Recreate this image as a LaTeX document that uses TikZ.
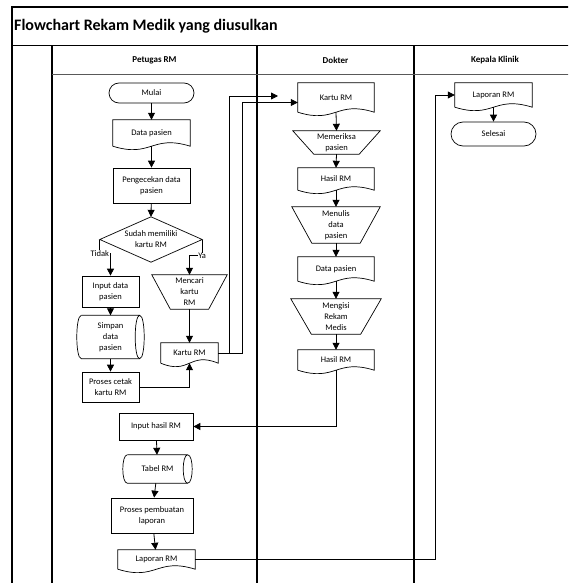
\documentclass[tikz,border=0pt]{standalone}
\usepackage{fontspec}
\setmainfont{Carlito}
\usetikzlibrary{arrows.meta, calc}

\newcommand{\flowfont}{\fontsize{8.5}{11}\selectfont}
% outlines drawn over plain nodes
\newcommand{\docshape}[1]{%
  \draw[outline] (#1.south west) -- (#1.north west) -- (#1.north east) -- (#1.south east)
    .. controls ($(#1.south)+(0,-12)$) and ($(#1.south)+(0,12)$) .. (#1.south west);}
\newcommand{\manop}[2]{%
  \draw[outline] (#1.north west) -- (#1.north east) -- ($(#1.south east)+(-#2,0)$)
    -- ($(#1.south west)+(#2,0)$) -- cycle;}
\newcommand{\storedata}[1]{%
  \draw[outline] (#1.north west) -- (#1.north east)
    .. controls +(6,0) and +(6,0) .. (#1.south east)
    .. controls +(-6,0) and +(-6,0) .. (#1.north east);
  \draw[outline] (#1.north west) .. controls +(-6,0) and +(-6,0) .. (#1.south west) -- (#1.south east);}
\newcommand{\decshape}[1]{%
  \draw[outline] (#1.north) -- (#1.east) -- (#1.south) -- (#1.west) -- cycle;}

\begin{document}
\begin{tikzpicture}[
    x=1pt, y=-1pt,
    outline/.style={line width=0.7pt},
    wh/.style 2 args={minimum width=#1pt, minimum height=#2pt},
    process/.style={rectangle, draw, line width=0.7pt, align=center, font=\flowfont, inner sep=0pt},
    plain/.style={rectangle, align=center, font=\flowfont, inner sep=0pt},
    lbl/.style={fill=white, inner sep=0.5pt, font=\flowfont},
    head/.style={font=\fontsize{9}{10}\selectfont\bfseries},
    title/.style={font=\fontsize{16}{19}\selectfont\bfseries, inner sep=0pt},
    frame/.style={line width=1.2pt},
    headline/.style={line width=1.8pt, black!65},
    arrow/.style={-{Triangle[length=7pt,width=7pt]}, line width=0.8pt}
]
\useasboundingbox (0,0) rectangle (568,583);
\clip (0,0) rectangle (568,583);

% Swimlanes
\draw[frame] (12,7) rectangle (580,590);
\draw[frame] (12,45.7) -- (580,45.7);
\draw[frame] (52,45.7) -- (52,590);
\draw[frame] (257,45.7) -- (257,590);
\draw[frame] (414,45.7) -- (414,590);
\draw[headline] (52,74.5) -- (580,74.5);
\node[title, anchor=west] (judul) at (14,26.5) {Flowchart Rekam Medik yang diusulkan};
\node[head] (hpetugas) at (154.5,60) {Petugas RM};
\node[head] (hdokter) at (335.5,60) {Dokter};
\node[head] (hkepala) at (495,60) {Kepala Klinik};

% Petugas RM
\node[process, wh={85}{20}, rounded corners=10pt] (mulai) at (151.5,93) {Mulai};
\node[plain, wh={77}{26}] (datap) at (151.5,133) {Data pasien};
\docshape{datap}
\node[process, wh={77}{35}] (cek) at (151.5,185.5) {Pengecekan data\\pasien};
\node[plain, wh={102}{45}] (cekrm) at (151,239.5) {Sudah memiliki\\kartu RM};
\decshape{cekrm}
\node[process, wh={57}{31}] (inputdp) at (110.5,291.5) {Input data\\pasien};
\node[plain, wh={58}{43}] (simpan) at (110.5,337) {Simpan\\data\\pasien};
\storedata{simpan}
\node[process, wh={57}{30}] (cetak) at (110.5,387) {Proses cetak\\kartu RM};
\node[plain, wh={75}{34}] (cari) at (189.5,292) {Mencari\\kartu\\RM};
\manop{cari}{18.5}
\node[plain, wh={57}{20}] (kartup) at (189.5,353) {Kartu RM};
\docshape{kartup}
\node[process, wh={74}{27}] (inputhasil) at (156,426.5) {Input hasil RM};
\node[plain, wh={60}{28}] (tabel) at (157.5,469) {Tabel RM};
\storedata{tabel}
\node[process, wh={82}{35}] (buatlap) at (152,515.5) {Proses pembuatan\\laporan};
\node[plain, wh={77}{19}] (lapp) at (156.5,559.5) {Laporan RM};
\docshape{lapp}

% Dokter
\node[plain, wh={76}{29}] (kartud) at (336,97.5) {Kartu RM};
\docshape{kartud}
\node[plain, wh={87}{23}] (periksa) at (336.5,142.5) {Memeriksa\\pasien};
\manop{periksa}{21}
\node[plain, wh={76}{22}] (hasil1) at (336,179) {Hasil RM};
\docshape{hasil1}
\node[plain, wh={88}{36}] (menulis) at (336,225) {Menulis\\data\\pasien};
\manop{menulis}{20}
\node[plain, wh={76}{24}] (datad) at (336,269) {Data pasien};
\docshape{datad}
\node[plain, wh={90}{35}] (mengisi) at (336,316.5) {Mengisi\\Rekam\\Medis};
\manop{mengisi}{20.5}
\node[plain, wh={76}{20}] (hasil2) at (336,360) {Hasil RM};
\docshape{hasil2}

% Kepala Klinik
\node[plain, wh={77}{24}] (lapk) at (493.5,95) {Laporan RM};
\docshape{lapk}
\node[process, wh={85}{24}, rounded corners=12pt] (selesai) at (493.5,134) {Selesai};

% Connections
\coordinate (ujung) at (278,96);
\draw[arrow] (mulai) -- (datap);
\draw[arrow] (datap.south) -- (cek);
\draw[arrow] (cek) -- (cekrm.north);
\draw[arrow] (cekrm.west) |- node[lbl]{Tidak} ($(inputdp.north)+(0,-22)$) -- (inputdp.north);
\draw[arrow] (cekrm.east) |- node[lbl]{Ya} ($(cari.north)+(0,-19)$) -- (cari.north);
\draw[arrow] (inputdp) -- (simpan);
\draw[arrow] (simpan) -- (cetak);
\draw[arrow] (cari.south) -- (kartup.north);
\draw[arrow] (cetak.east) -| (kartup.south);
\draw[arrow] (kartup.east) -- ++(11,0) |- (ujung);
\draw[arrow] (kartup.east) -- ++(24,0) |- ($(kartud.west)+(0,5)$);
\draw[arrow] (kartud.south) -- (periksa.north);
\draw[arrow] (periksa.south) -- (hasil1.north);
\draw[arrow] (hasil1.south) -- (menulis.north);
\draw[arrow] (menulis.south) -- (datad.north);
\draw[arrow] (datad.south) -- (mengisi.north);
\draw[arrow] (mengisi.south) -- (hasil2.north);
\draw[arrow] (hasil2.south) |- (inputhasil.east);
\draw[arrow] (inputhasil) -- (tabel);
\draw[arrow] (tabel) -- (buatlap);
\draw[arrow] (buatlap) -- (lapp);
\draw[arrow] (lapp.east) -| ($(lapk.west)+(-19,0)$) -- (lapk.west);
\draw[arrow] (lapk.south) -- (selesai);
\end{tikzpicture}
\end{document}
